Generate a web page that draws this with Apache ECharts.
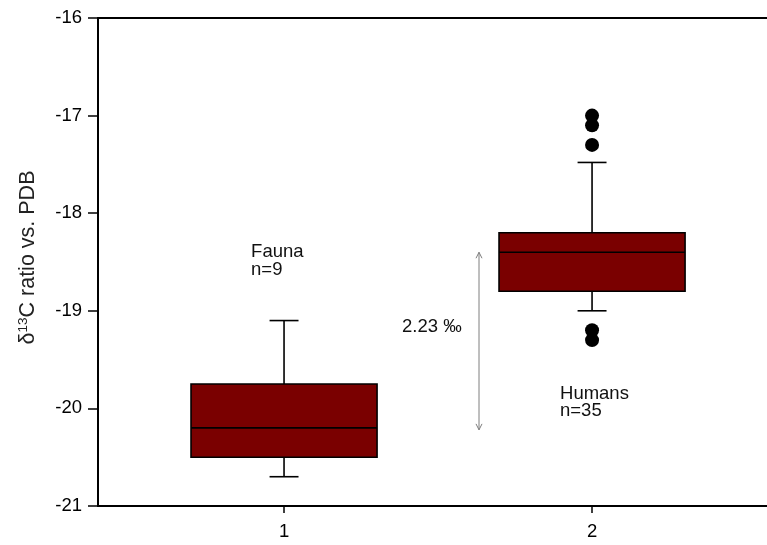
<!DOCTYPE html>
<html>
<head>
<meta charset="utf-8">
<script src="https://cdn.jsdelivr.net/npm/echarts@6/dist/echarts.min.js"></script>
<style>
  html, body { margin: 0; padding: 0; background: #ffffff; }
  #chart { width: 767px; height: 545px; }
</style>
</head>
<body>
<div id="chart"></div>
<script>
// ---- data ----
const categories = ['1', '2'];            // x tick labels
const categoryX = [1, 2];                 // x positions of the two groups
const groupNames = ['Fauna', 'Humans'];
const sampleSizes = [9, 35];
const whiskerLow = [-20.70, -19.00];
const q1 = [-20.50, -18.80];
const median = [-20.20, -18.40];
const q3 = [-19.75, -18.20];
const whiskerHigh = [-19.10, -17.48];
const humanOutliers = [-17.0, -17.1, -17.3, -19.2, -19.3];
const diffText = '2.23 \u2030';
const arrowEnds = [-18.40, -20.22];       // medians the arrow spans
const yMin = -21, yMax = -16, yStep = 1;
const xMin = 0.396, xMax = 2.568;

// ---- annotation anchors (data coordinates) ----
const labelAnchors = [[0.893, -18.31], [1.896, -19.76]];
const diffAnchor = [1.383, -19.17];
const arrowX = 1.633;

// ---- style constants ----
const FONT = 'Arial, "Liberation Sans", sans-serif';
const BOX_FILL = '#7a0000';
const BOX_HALF = 0.302;
const CAP_HALF = 0.047;

const boxData = categoryX.map((x, i) => [x, whiskerLow[i], q1[i], median[i], q3[i], whiskerHigh[i]]);
const outlierData = humanOutliers.map(v => [categoryX[1], v]);
const labelTexts = groupNames.map((n, i) => n + '\nn=' + sampleSizes[i]);

const chart = echarts.init(document.getElementById('chart'), null, { renderer: 'canvas' });

chart.setOption({
  animation: false,
  backgroundColor: '#ffffff',
  grid: { left: 98, top: 18, bottom: 39, right: 0, containLabel: false },
  xAxis: [{
    type: 'value', min: xMin, max: xMax,
    splitLine: { show: false },
    axisLine: { show: true, onZero: false, lineStyle: { color: '#000', width: 2 } },
    axisTick: { show: true, customValues: categoryX, length: 7, lineStyle: { color: '#000', width: 1.5 } },
    axisLabel: {
      show: true, customValues: categoryX, margin: 16,
      formatter: v => categories[categoryX.indexOf(v)] || '',
      fontFamily: FONT, fontSize: 18.5, color: '#000'
    }
  }, {
    type: 'value', position: 'top', min: xMin, max: xMax,
    splitLine: { show: false },
    axisLine: { show: true, onZero: false, lineStyle: { color: '#000', width: 2 } },
    axisTick: { show: false }, axisLabel: { show: false }
  }],
  yAxis: {
    type: 'value', min: yMin, max: yMax, interval: yStep,
    splitLine: { show: false },
    axisLine: { show: true, onZero: false, lineStyle: { color: '#000', width: 2 } },
    axisTick: { show: true, inside: false, length: 10, lineStyle: { color: '#000', width: 1.5 } },
    axisLabel: { fontFamily: FONT, fontSize: 18.5, color: '#000', margin: 16 },
    name: '{a|\u03b4}{b|13}{a|C ratio vs. PDB}',
    nameLocation: 'middle',
    nameGap: 58,
    nameTextStyle: {
      padding: [0, 0, 0, 9],
      rich: {
        a: { fontFamily: FONT, fontSize: 21.5, color: '#222', lineHeight: 24 },
        b: { fontFamily: FONT, fontSize: 13.5, color: '#222', lineHeight: 13, verticalAlign: 'top' }
      }
    }
  },
  series: [{
    type: 'custom',
    name: 'boxes',
    data: boxData,
    encode: { x: 0, y: [1, 2, 3, 4, 5] },
    renderItem: function (params, api) {
      const x = api.value(0);
      const lo = api.coord([x, api.value(1)]);
      const b1 = api.coord([x, api.value(2)]);
      const md = api.coord([x, api.value(3)]);
      const b3 = api.coord([x, api.value(4)]);
      const hi = api.coord([x, api.value(5)]);
      const hw = api.size([BOX_HALF, 0])[0];
      const cw = api.size([CAP_HALF, 0])[0];
      const cx = lo[0];
      const ls = { stroke: '#000', lineWidth: 1.6, fill: null };
      return {
        type: 'group',
        children: [
          { type: 'line', shape: { x1: cx, y1: b3[1], x2: cx, y2: hi[1] }, style: ls },
          { type: 'line', shape: { x1: cx, y1: b1[1], x2: cx, y2: lo[1] }, style: ls },
          { type: 'line', shape: { x1: cx - cw, y1: hi[1], x2: cx + cw, y2: hi[1] }, style: ls },
          { type: 'line', shape: { x1: cx - cw, y1: lo[1], x2: cx + cw, y2: lo[1] }, style: ls },
          { type: 'rect', shape: { x: cx - hw, y: b3[1], width: 2 * hw, height: b1[1] - b3[1] },
            style: { fill: BOX_FILL, stroke: '#000', lineWidth: 1.6 } },
          { type: 'line', shape: { x1: cx - hw, y1: md[1], x2: cx + hw, y2: md[1] }, style: ls }
        ]
      };
    },
    z: 2
  }, {
    type: 'scatter',
    name: 'outliers',
    data: outlierData,
    symbol: 'circle',
    symbolSize: 14,
    itemStyle: { color: '#000', opacity: 1 },
    z: 3
  }, {
    type: 'custom',
    name: 'arrow',
    data: [[arrowX, arrowEnds[0], arrowEnds[1]]],
    encode: { x: 0, y: [1, 2] },
    renderItem: function (params, api) {
      const x = api.value(0);
      const top = api.coord([x, api.value(1)]);
      const bot = api.coord([x, api.value(2)]);
      const st = { stroke: '#7f7f7f', lineWidth: 1, fill: null };
      return {
        type: 'group',
        children: [
          { type: 'line', shape: { x1: top[0], y1: top[1], x2: bot[0], y2: bot[1] }, style: st },
          { type: 'polyline', shape: { points: [[top[0] - 3, top[1] + 6], [top[0], top[1]], [top[0] + 3, top[1] + 6]] }, style: st },
          { type: 'polyline', shape: { points: [[bot[0] - 3, bot[1] - 6], [bot[0], bot[1]], [bot[0] + 3, bot[1] - 6]] }, style: st }
        ]
      };
    },
    z: 1
  }, {
    type: 'custom',
    name: 'labels',
    data: labelAnchors.concat([diffAnchor]),
    encode: { x: 0, y: 1 },
    renderItem: function (params, api) {
      const p = api.coord([api.value(0), api.value(1)]);
      const i = params.dataIndex;
      const isDiff = i === labelAnchors.length;
      return {
        type: 'text',
        x: p[0], y: p[1],
        style: {
          text: isDiff ? diffText : labelTexts[i],
          fontFamily: FONT, fontSize: 18.5, fill: '#111',
          lineHeight: 17.5,
          align: 'left',
          verticalAlign: isDiff ? 'middle' : 'top'
        }
      };
    },
    z: 4
  }]
});
</script>
</body>
</html>
